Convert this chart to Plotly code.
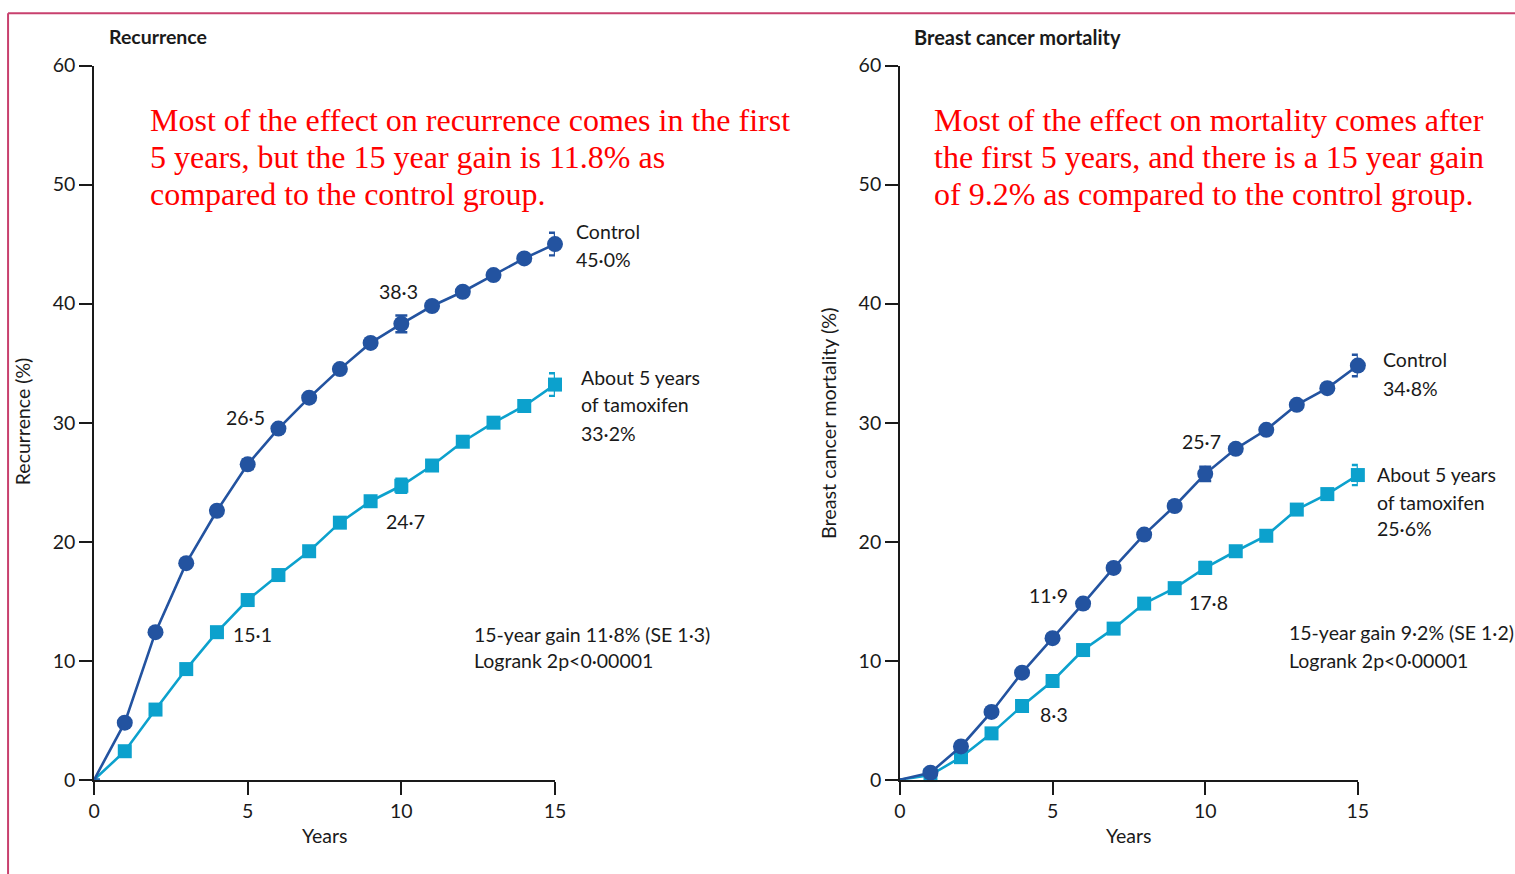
import plotly.graph_objects as go

# figure canvas in CSS pixels
W, H = 1525, 884
# layout positions below are given in output-image pixels; the capture
# shows the page scaled and inset, so convert back to page pixels
SX, OX = 0.989, 5.94
SY, OY = 0.975, 11.4

# ---- data -------------------------------------------------------------
years = list(range(0, 16))

recur_control = [0, 4.8, 12.4, 18.2, 22.6, 26.5, 29.5, 32.1, 34.5, 36.7,
                 38.3, 39.8, 41.0, 42.4, 43.8, 45.0]
recur_tamox = [0, 2.4, 5.9, 9.3, 12.4, 15.1, 17.2, 19.2, 21.6, 23.4,
               24.7, 26.4, 28.4, 30.0, 31.4, 33.2]
mort_control = [0, 0.6, 2.8, 5.7, 9.0, 11.9, 14.8, 17.8, 20.6, 23.0,
                25.7, 27.8, 29.4, 31.5, 32.9, 34.8]
mort_tamox = [0, 0.4, 1.9, 3.9, 6.2, 8.3, 10.9, 12.7, 14.8, 16.1,
              17.8, 19.2, 20.5, 22.7, 24.0, 25.6]

# standard errors shown at 5, 10 and 15 years
recur_control_se = [0, 0, 0, 0, 0, 0.4, 0, 0, 0, 0, 0.7, 0, 0, 0, 0, 0.95]
recur_tamox_se = [0, 0, 0, 0, 0, 0.3, 0, 0, 0, 0, 0.6, 0, 0, 0, 0, 0.95]
mort_control_se = [0, 0, 0, 0, 0, 0.3, 0, 0, 0, 0, 0.6, 0, 0, 0, 0, 0.9]
mort_tamox_se = [0, 0, 0, 0, 0, 0.3, 0, 0, 0, 0, 0.5, 0, 0, 0, 0, 0.85]

x_ticks = [0, 5, 10, 15]
y_ticks = [0, 10, 20, 30, 40, 50, 60]

DARK = "#2353a0"
CYAN = "#0ca1cd"
INK = "#1a1a1a"
RED = "#ff0000"
SANS = "Lato, 'Open Sans', sans-serif"
SERIF = "'Liberation Serif', 'Times New Roman', serif"


def px(x):
    return (x - OX) / SX / W


def py(y):
    return 1 - (y - OY) / SY / H


fig = go.Figure()


def add_series(xa, ya, vals, se, color, symbol, size):
    fig.add_trace(go.Scatter(
        x=years, y=vals, xaxis=xa, yaxis=ya, mode="lines+markers",
        line=dict(color=color, width=2.6),
        marker=dict(color=color, symbol=symbol, opacity=1,
                    line=dict(width=0),
                    size=[0] + [size] * (len(years) - 1)),
        error_y=dict(type="data", array=se, visible=True, color=color,
                     thickness=2.4, width=6),
        cliponaxis=False, showlegend=False, hoverinfo="x+y"))


add_series("x", "y", recur_tamox, recur_tamox_se, CYAN, "square", 14)
add_series("x", "y", recur_control, recur_control_se, DARK, "circle", 16)
add_series("x2", "y2", mort_tamox, mort_tamox_se, CYAN, "square", 14)
add_series("x2", "y2", mort_control, mort_control_se, DARK, "circle", 16)

ydom = [py(780), py(65)]
axis_common = dict(showgrid=False, zeroline=False, showline=True,
                   linecolor=INK, linewidth=1.6, ticks="outside",
                   ticklen=13, tickwidth=1.6, tickcolor=INK,
                   tickfont=dict(family=SANS, size=19.5, color=INK))

fig.update_layout(
    width=W, height=H, margin=dict(l=0, r=0, t=0, b=0),
    paper_bgcolor="white", plot_bgcolor="white",
    xaxis=dict(domain=[px(94), px(555)], range=[0, 15], tickvals=x_ticks,
               anchor="y", **axis_common),
    yaxis=dict(domain=ydom, range=[0, 60], tickvals=y_ticks,
               anchor="x", **axis_common),
    xaxis2=dict(domain=[px(900), px(1358)], range=[0, 15], tickvals=x_ticks,
                anchor="y2", **axis_common),
    yaxis2=dict(domain=ydom, range=[0, 60], tickvals=y_ticks,
                anchor="x2", **axis_common),
)

ann = []


def text(x, y, s, size=19.5, color=INK, family=SANS, xanchor="left",
         angle=0, weight="normal"):
    ann.append(dict(x=px(x), y=py(y), xref="paper", yref="paper", text=s,
                    showarrow=False, xanchor=xanchor, yanchor="middle",
                    textangle=angle,
                    font=dict(family=family, size=size, color=color,
                              weight=weight)))


# panel titles and axis titles
text(107, 36, "Recurrence", size=19.5, weight="bold")
text(912, 36, "Breast cancer mortality", size=20, weight="bold")
text(325, 836, "Years", xanchor="center")
text(1129, 836, "Years", xanchor="center")
text(22, 421, "Recurrence (%)", size=19.5, xanchor="center", angle=-90)
text(828, 423, "Breast cancer mortality (%)", size=19.8, xanchor="center",
     angle=-90)

# commentary in red
left_note = ["Most of the effect on recurrence comes in the first",
             "5 years, but the 15 year gain is 11.8% as",
             "compared to the control group."]
right_note = ["Most of the effect on mortality comes after",
              "the first 5 years, and there is a 15 year gain",
              "of 9.2% as compared to the control group."]
for i, line in enumerate(left_note):
    text(148, 120 + 37 * i, line, size=32, color=RED, family=SERIF)
for i, line in enumerate(right_note):
    text(932, 120 + 37 * i, line, size=32, color=RED, family=SERIF)

# value labels at 5 and 10 years
text(245, 417, "26·5", xanchor="center")
text(398, 291, "38·3", xanchor="center")
text(252, 635, "15·1", xanchor="center")
text(405, 521, "24·7", xanchor="center")
text(1049, 596, "11·9", xanchor="center")
text(1202, 441, "25·7", xanchor="center")
text(1054, 715, "8·3", xanchor="center")
text(1209, 603, "17·8", xanchor="center")

# end-of-curve labels
text(574, 231, "Control")
text(574, 259, "45·0%")
text(579, 377, "About 5 years")
text(579, 404, "of tamoxifen")
text(579, 433, "33·2%")
text(1381, 359, "Control")
text(1381, 388, "34·8%")
text(1375, 474, "About 5 years")
text(1375, 502, "of tamoxifen")
text(1375, 528, "25·6%")

# summary statistics
text(472, 635, "15-year gain 11·8% (SE 1·3)")
text(472, 661, "Logrank 2p<0·00001")
text(1287, 633, "15-year gain 9·2% (SE 1·2)")
text(1287, 661, "Logrank 2p<0·00001")

fig.update_layout(annotations=ann)

# frame lines along the top and left edges
BORDER = "#c8406e"
top = 1 - 1.2 / H
fig.add_shape(type="line", xref="paper", yref="paper", x0=px(8), x1=1.02,
              y0=top, y1=top, line=dict(color=BORDER, width=2))
fig.add_shape(type="line", xref="paper", yref="paper", x0=px(8), x1=px(8),
              y0=top, y1=-0.02, line=dict(color=BORDER, width=2))

fig.write_html("out.html")
